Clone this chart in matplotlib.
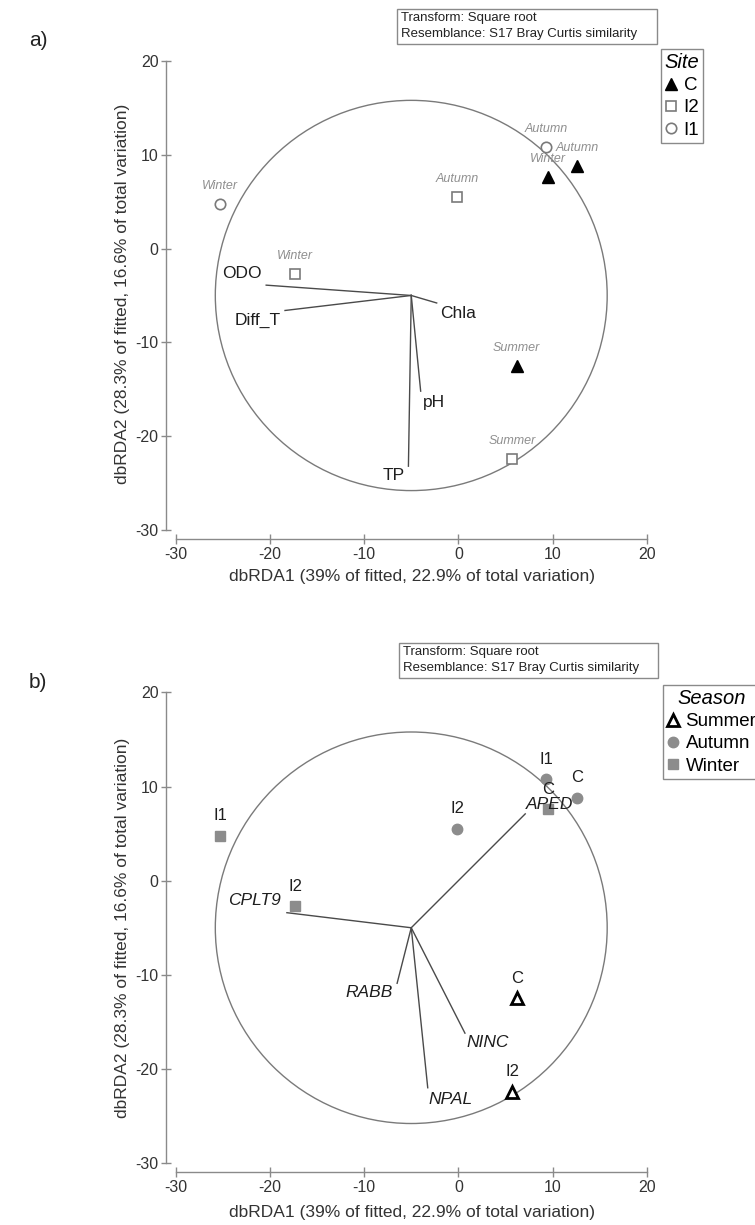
import matplotlib
matplotlib.use('Agg')
import matplotlib.pyplot as plt
from matplotlib.lines import Line2D
from matplotlib.patches import Circle, Rectangle

plt.rcParams['font.family'] = ['Liberation Sans', 'DejaVu Sans']
plt.rcParams['axes.unicode_minus'] = False

# Scores das amostras no dbRDA (mesma ordenacao nos dois paineis)
site = ['I1', 'I1', 'I2', 'I2', 'I2', 'C', 'C', 'C']
season = ['Winter', 'Autumn', 'Autumn', 'Winter', 'Summer', 'Winter', 'Autumn', 'Summer']
rda1 = [-25.3, 9.3, -0.1, -17.3, 5.7, 9.5, 12.6, 6.2]
rda2 = [4.8, 10.8, 5.5, -2.7, -22.4, 7.6, 8.8, -12.5]

# Origem dos vetores e raio do circulo de correlacao
origem = (-5.0, -5.0)
raio = 20.8

# Vetores ambientais (painel a)
envNomes = ['ODO', 'Diff_T', 'Chla', 'pH', 'TP']
envX = [-20.4, -18.4, -2.3, -4.0, -5.3]
envY = [-3.9, -6.6, -5.8, -15.2, -23.2]

# Vetores das especies (painel b)
sppNomes = ['APED', 'CPLT9', 'RABB', 'NPAL', 'NINC']
sppX = [7.1, -18.2, -6.5, -3.25, 0.7]
sppY = [7.1, -3.4, -10.9, -22.0, -16.2]

ticks = [-30, -20, -10, 0, 10, 20]
xLabel = 'dbRDA1 (39% of fitted, 22.9% of total variation)'
yLabel = 'dbRDA2 (28.3% of fitted, 16.6% of total variation)'
caixaTexto = 'Transform: Square root\nResemblance: S17 Bray Curtis similarity'

W, H = 755.0, 1225.0
CINZA = '#8a8a8a'


def fx(px):
    return px / W


def fy(py):
    return 1 - py / H


def eixos(ax):
    ax.set_xlim(-31, 21)
    ax.set_ylim(-31, 21)
    ax.spines['top'].set_visible(False)
    ax.spines['right'].set_visible(False)
    for s in ['left', 'bottom']:
        ax.spines[s].set_color(CINZA)
        ax.spines[s].set_linewidth(1)
        ax.spines[s].set_bounds(-30, 20)
    ax.set_xticks(ticks)
    ax.set_yticks(ticks)
    ax.tick_params(direction='inout', length=7, width=1, color=CINZA,
                   labelsize=11.5, labelcolor='#333333', pad=2)
    ax.add_patch(Circle(origem, raio, fill=False, ec='#7a7a7a', lw=1))


def vetores(ax, nomes, xs, ys, offsets, italico):
    for nome, x, y in zip(nomes, xs, ys):
        ax.plot([origem[0], x], [origem[1], y], color='#4a4a4a', lw=1)
        ax.annotate(nome, (x, y), xytext=offsets[nome], textcoords='offset pixels',
                    ha='center', va='center', fontsize=12.5, color='#1e1e1e',
                    style='italic' if italico else 'normal')


def moldura(fig, y0, y1, x0, x1, xTexto, yTexto):
    fig.add_artist(Rectangle((fx(x0), fy(y1)), fx(x1) - fx(x0), fy(y0) - fy(y1),
                             transform=fig.transFigure, fill=False, ec=CINZA, lw=1))
    fig.text(fx(xTexto), fy(yTexto), caixaTexto, ha='left', va='center',
             fontsize=9.5, color='#222222', linespacing=1.35)


def legenda(ax, fig, handles, nomes, titulo, x, y):
    leg = ax.legend(handles, nomes, title=titulo, loc='upper left',
                    bbox_to_anchor=(fx(x), fy(y)), bbox_transform=fig.transFigure,
                    fancybox=False, edgecolor=CINZA, fontsize=13.5,
                    title_fontproperties={'style': 'italic', 'size': 14.5},
                    handlelength=0.7, handletextpad=0.3, borderpad=0.2,
                    labelspacing=0.28, borderaxespad=0, framealpha=1)
    leg.get_frame().set_linewidth(1)


def main():
    fig = plt.figure(figsize=(W / 100, H / 100), dpi=100)
    axA = fig.add_axes([0.2203, 0.5597, 0.6488, 0.3982])
    axB = fig.add_axes([0.2203, 0.0429, 0.6488, 0.3995])

    # ---------------- painel a ----------------
    eixos(axA)
    vetores(axA, envNomes, envX, envY,
            {'ODO': (-24, 12), 'Diff_T': (-27, -10), 'Chla': (21, -11),
             'pH': (13, -11), 'TP': (-15, -9)}, False)

    estiloSite = {
        'C': dict(marker='^', ms=9, mfc='black', mec='black', mew=1),
        'I2': dict(marker='s', ms=7, mfc='white', mec='#7a7a7a', mew=1.2),
        'I1': dict(marker='o', ms=7.5, mfc='white', mec='#7a7a7a', mew=1.2),
    }
    for s, e, x, y in zip(site, season, rda1, rda2):
        axA.plot(x, y, ls='none', **estiloSite[s])
        axA.annotate(e, (x, y), xytext=(0, 18), textcoords='offset pixels',
                     ha='center', va='center', fontsize=9, style='italic', color='#8f8f8f')

    handles = [Line2D([], [], ls='none', **estiloSite[k]) for k in ['C', 'I2', 'I1']]
    legenda(axA, fig, handles, ['C', 'I2', 'I1'], 'Site', 661, 49)

    moldura(fig, 9, 44, 397, 657, 401, 26)
    fig.text(fx(412), fy(577), xLabel, ha='center', va='center', fontsize=12.5, color='#333333')
    fig.text(fx(122), fy(294), yLabel, ha='center', va='center', rotation=90,
             fontsize=12.5, color='#333333')
    fig.text(fx(38), fy(41), 'a)', ha='center', va='center', fontsize=15, color='#222222')

    # ---------------- painel b ----------------
    eixos(axB)
    vetores(axB, sppNomes, sppX, sppY,
            {'APED': (24, 9), 'CPLT9': (-32, 12), 'RABB': (-28, -9),
             'NPAL': (23, -12), 'NINC': (23, -9)}, True)

    estiloSeason = {
        'Summer': dict(marker='^', ms=9, mfc='white', mec='black', mew=2),
        'Autumn': dict(marker='o', ms=7.5, mfc='#8c8c8c', mec='#8c8c8c', mew=1),
        'Winter': dict(marker='s', ms=7.5, mfc='#8c8c8c', mec='#8c8c8c', mew=1),
    }
    for s, e, x, y in zip(site, season, rda1, rda2):
        axB.plot(x, y, ls='none', zorder=1.5, **estiloSeason[e])
        axB.annotate(s, (x, y), xytext=(0, 20), textcoords='offset pixels',
                     ha='center', va='center', fontsize=12, color='#1e1e1e')

    handles = [Line2D([], [], ls='none', **estiloSeason[k]) for k in ['Summer', 'Autumn', 'Winter']]
    legenda(axB, fig, handles, ['Summer', 'Autumn', 'Winter'], 'Season', 663, 685)

    moldura(fig, 643, 678, 399, 658, 403, 660)
    fig.text(fx(412), fy(1213), xLabel, ha='center', va='center', fontsize=12.5, color='#333333')
    fig.text(fx(122), fy(928), yLabel, ha='center', va='center', rotation=90,
             fontsize=12.5, color='#333333')
    fig.text(fx(38), fy(682), 'b)', ha='center', va='center', fontsize=15, color='#222222')

    fig.savefig('out.png', dpi=100)


main()
